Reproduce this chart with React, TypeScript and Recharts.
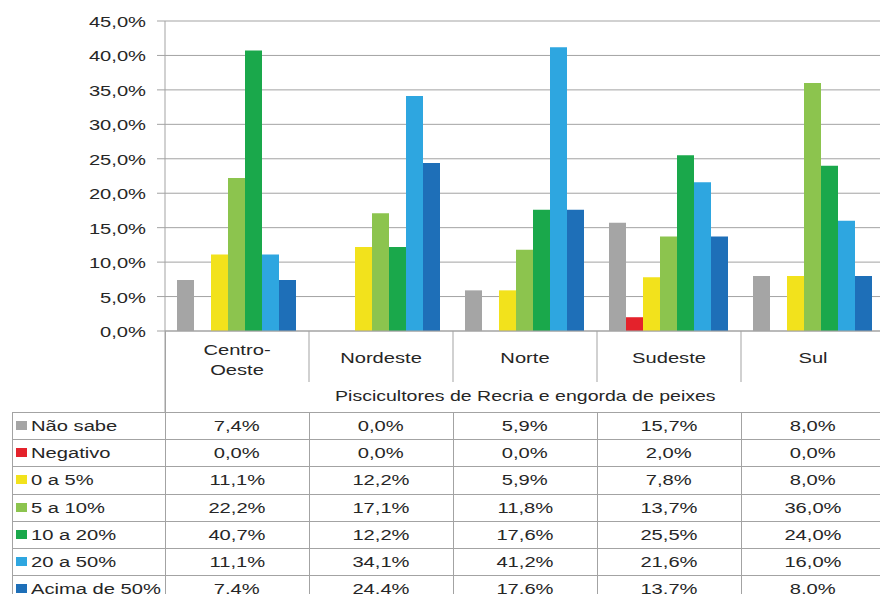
import { Bar, BarChart, CartesianGrid, XAxis, YAxis } from "recharts"

const categories = ["Centro-Oeste", "Nordeste", "Norte", "Sudeste", "Sul"]
const naoSabe = [7.4, 0.0, 5.9, 15.7, 8.0]
const negativo = [0.0, 0.0, 0.0, 2.0, 0.0]
const zeroA5 = [11.1, 12.2, 5.9, 7.8, 8.0]
const cincoA10 = [22.2, 17.1, 11.8, 13.7, 36.0]
const dezA20 = [40.7, 12.2, 17.6, 25.5, 24.0]
const vinteA50 = [11.1, 34.1, 41.2, 21.6, 16.0]
const acima50 = [7.4, 24.4, 17.6, 13.7, 8.0]
const yTicks = [0, 5, 10, 15, 20, 25, 30, 35, 40, 45]
const caption = "Piscicultores de Recria e engorda de peixes"

const series = [
  { key: "naoSabe", name: "Não sabe", color: "#a5a5a5", values: naoSabe },
  { key: "negativo", name: "Negativo", color: "#e4222b", values: negativo },
  { key: "zeroA5", name: "0 a 5%", color: "#f2e21c", values: zeroA5 },
  { key: "cincoA10", name: "5 a 10%", color: "#8cc44e", values: cincoA10 },
  { key: "dezA20", name: "10 a 20%", color: "#1aa84b", values: dezA20 },
  { key: "vinteA50", name: "20 a 50%", color: "#2ea6e0", values: vinteA50 },
  { key: "acima50", name: "Acima de 50%", color: "#1e6fb8", values: acima50 },
]

const chartData = categories.map((region, i) => {
  const row: Record<string, string | number> = { region }
  series.forEach((s) => (row[s.key] = s.values[i]))
  return row
})

const FONT = '"Liberation Sans", Arial, sans-serif'
const STRETCH = 1.3
const GRID = "#a3a3a3"
const TEXT = "#262626"

// layout (page px)
const PLOT_LEFT = 165
const BAND = 144
const PLOT_TOP = 21
const AXIS_Y = 331
const TABLE_TOP = 412
const ROW_H = 27.2

const fmt = (v: number) => v.toFixed(1).replace(".", ",") + "%"

const YTick = ({ x, y, payload }: any) => (
  <text
    transform={`translate(${x},${y + 6}) scale(${STRETCH},1)`}
    textAnchor="end"
    fontSize={15.5}
    fontFamily={FONT}
    fill={TEXT}
  >
    {fmt(payload.value)}
  </text>
)

const XTick = ({ x, y, payload, index }: any) => {
  const half = payload.offset || BAND / 2
  const value: string = payload.value
  const lines = value.includes("-") ? [value.slice(0, value.indexOf("-") + 1), value.slice(value.indexOf("-") + 1)] : [value]
  return (
    <g>
      <line x1={x + half} x2={x + half} y1={y} y2={y + 51} stroke={GRID} />
      {index === 0 && <line x1={x - half} x2={x - half} y1={y} y2={y + 81} stroke={GRID} />}
      {lines.map((l, i) => (
        <text
          key={l}
          transform={`translate(${x},${y + (lines.length === 1 ? 32 : 24 + i * 20)}) scale(${STRETCH},1)`}
          textAnchor="middle"
          fontSize={15.5}
          fontFamily={FONT}
          fill={TEXT}
        >
          {l}
        </text>
      ))}
    </g>
  )
}

const stretched = (origin: string): React.CSSProperties => ({
  display: "inline-block",
  transform: `scaleX(${STRETCH})`,
  transformOrigin: origin,
  whiteSpace: "nowrap",
})

function DataTable() {
  const rowTops = series.map((_, i) => Math.round(TABLE_TOP + i * ROW_H))
  const bottom = 600
  const colEdges = categories.map((_, i) => PLOT_LEFT + i * BAND)
  return (
    <>
      {/* horizontal rules */}
      {rowTops.map((t) => (
        <div key={t} style={{ position: "absolute", left: 12, top: t, width: 880, height: 1, background: GRID }} />
      ))}
      {/* vertical rules */}
      <div style={{ position: "absolute", left: 12, top: TABLE_TOP, width: 1, height: bottom - TABLE_TOP, background: GRID }} />
      {colEdges.map((x, i) => (
        <div
          key={x}
          style={{ position: "absolute", left: x, top: i === 0 ? AXIS_Y : TABLE_TOP, width: 1, height: bottom - (i === 0 ? AXIS_Y : TABLE_TOP), background: GRID }}
        />
      ))}
      {/* caption row */}
      <div
        style={{ position: "absolute", left: PLOT_LEFT, top: 386, width: BAND * 5, textAlign: "center", fontSize: 15, lineHeight: "20px", color: TEXT }}
      >
        <span style={stretched("center")}>{caption}</span>
      </div>
      {series.map((s, r) => (
        <div key={s.key}>
          <div style={{ position: "absolute", left: 16, top: rowTops[r] + 9, width: 11, height: 9, background: s.color }} />
          <div style={{ position: "absolute", left: 31, top: rowTops[r], height: ROW_H, lineHeight: `${ROW_H}px`, fontSize: 15.5, color: TEXT }}>
            <span style={stretched("left center")}>{s.name}</span>
          </div>
          {s.values.map((v, c) => (
            <div
              key={c}
              style={{ position: "absolute", left: colEdges[c], top: rowTops[r], width: BAND, height: ROW_H, lineHeight: `${ROW_H}px`, textAlign: "center", fontSize: 15.5, color: TEXT }}
            >
              <span style={stretched("center")}>{fmt(v)}</span>
            </div>
          ))}
        </div>
      ))}
    </>
  )
}

export default function App() {
  const width = PLOT_LEFT + BAND * 5 + 15
  return (
    <div style={{ position: "fixed", left: 0, top: 0, width: 880, height: 594, overflow: "hidden", background: "#fff", fontFamily: FONT }}>
      <div style={{ position: "absolute", left: 0, top: 0 }}>
        <BarChart
          width={width}
          height={TABLE_TOP}
          data={chartData}
          margin={{ top: PLOT_TOP, right: width - PLOT_LEFT - BAND * 5, left: 0, bottom: 0 }}
          barCategoryGap={12}
          barGap={0}
        >
          <CartesianGrid horizontal vertical={false} stroke={GRID} />
          <XAxis
            dataKey="region"
            height={TABLE_TOP - AXIS_Y}
            axisLine={{ stroke: GRID }}
            tickLine={false}
            tickSize={0}
            tickMargin={0}
            interval={0}
            tick={<XTick />}
          />
          <YAxis
            width={PLOT_LEFT}
            domain={[0, 45]}
            ticks={yTicks}
            interval={0}
            axisLine={{ stroke: GRID }}
            tickLine={{ stroke: GRID }}
            tickSize={8}
            tickMargin={11}
            tick={<YTick />}
          />
          {series.map((s) => (
            <Bar key={s.key} dataKey={s.key} name={s.name} fill={s.color} isAnimationActive={false} />
          ))}
        </BarChart>
      </div>
      <DataTable />
    </div>
  )
}
